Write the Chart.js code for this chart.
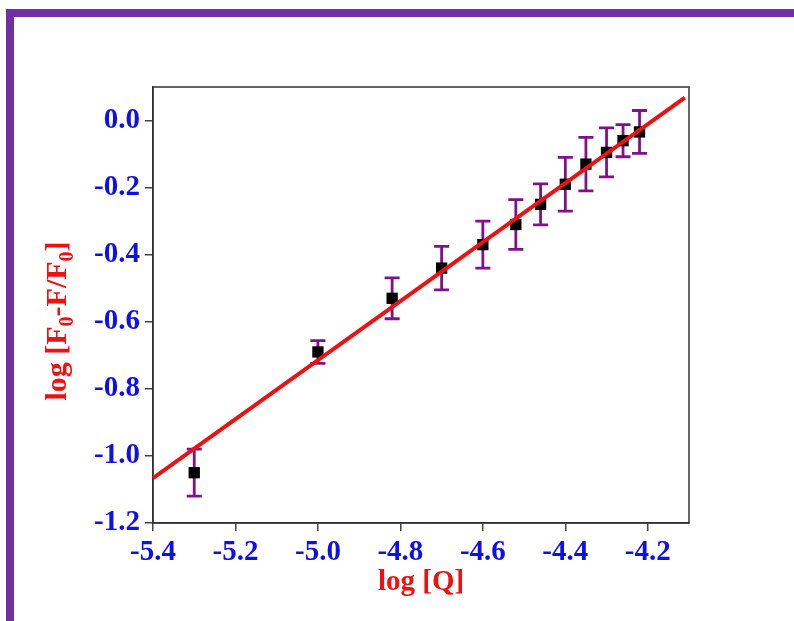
<!DOCTYPE html>
<html lang="en">
<head>
  <meta charset="UTF-8">
  <title>log [F0-F/F0] vs log [Q]</title>
  <script src="https://cdn.jsdelivr.net/npm/chart.js"></script>
  <style>
    html, body { margin: 0; padding: 0; background: #fff; }
    .wrap { position: relative; width: 794px; height: 621px; overflow: hidden; }
    .frame {
      position: absolute; left: 6px; top: 9px; width: 900px; height: 700px;
      border-top: 8px solid #7030a0; border-left: 8px solid #7030a0;
    }
    #plot { position: absolute; left: 0; top: 0; }
  </style>
</head>
<body>
  <div class="wrap">
    <div class="frame"></div>
    <canvas id="plot" width="794" height="621"></canvas>
  </div>

  <script>
    // measured points (log [Q], log [F0-F/F0]) with error
    const xVals = [-5.30, -5.00, -4.82, -4.70, -4.60, -4.52, -4.46, -4.40, -4.35, -4.30, -4.26, -4.22];
    const yVals = [-1.05, -0.69, -0.53, -0.44, -0.37, -0.31, -0.25, -0.19, -0.13, -0.095, -0.06, -0.034];
    const yErr  = [0.07, 0.034, 0.061, 0.065, 0.07, 0.074, 0.061, 0.08, 0.08, 0.073, 0.048, 0.064];

    // linear fit line end points
    const fitX = [-5.4, -4.11];
    const fitY = [-1.066, 0.068];

    const xTicks = [-5.4, -5.2, -5.0, -4.8, -4.6, -4.4, -4.2];
    const yTicks = [-1.2, -1.0, -0.8, -0.6, -0.4, -0.2, 0.0];

    const tickFont = { family: 'Liberation Serif', size: 29, weight: 'bold' };
    const blue = '#0f0fe8';
    const red = '#ee1111';

    // error bars under the markers
    const errorBars = {
      id: 'errorBars',
      beforeDatasetsDraw(chart) {
        const ctx = chart.ctx;
        const xs = chart.scales.x, ys = chart.scales.y;
        ctx.save();
        ctx.strokeStyle = '#80118a';
        ctx.lineWidth = 2.8;
        for (let i = 0; i < xVals.length; i++) {
          const px = xs.getPixelForValue(xVals[i]);
          const top = ys.getPixelForValue(yVals[i] + yErr[i]);
          const bot = ys.getPixelForValue(yVals[i] - yErr[i]);
          ctx.beginPath();
          ctx.moveTo(px, top); ctx.lineTo(px, bot);
          ctx.moveTo(px - 7.5, top); ctx.lineTo(px + 7.5, top);
          ctx.moveTo(px - 7.5, bot); ctx.lineTo(px + 7.5, bot);
          ctx.stroke();
        }
        ctx.restore();
      }
    };

    // box round the plot area and the y title with subscripts
    const boxAndTitle = {
      id: 'boxAndTitle',
      beforeDatasetsDraw(chart) {
        const a = chart.chartArea, ctx = chart.ctx;
        ctx.save();
        ctx.strokeStyle = '#333';
        ctx.lineWidth = 1.5;
        ctx.strokeRect(a.left, a.top, a.right - a.left, a.bottom - a.top);
        ctx.restore();
      },
      afterDraw(chart) {
        const ctx = chart.ctx;
        const parts = [
          ['log [F', false], ['0', true], ['-F/F', false], ['0', true], [']', false]
        ];
        const big = 'bold 30px "Liberation Serif"';
        const small = 'bold 20px "Liberation Serif"';
        ctx.save();
        let total = 0;
        parts.forEach(p => { ctx.font = p[1] ? small : big; total += ctx.measureText(p[0]).width; });
        ctx.translate(57, 321);
        ctx.rotate(-Math.PI / 2);
        ctx.fillStyle = red;
        ctx.textBaseline = 'alphabetic';
        ctx.textAlign = 'left';
        let x = -total / 2;
        parts.forEach(p => {
          ctx.font = p[1] ? small : big;
          ctx.fillText(p[0], x, p[1] ? 16 : 9);
          x += ctx.measureText(p[0]).width;
        });
        ctx.restore();
      }
    };

    new Chart(document.getElementById('plot'), {
      type: 'scatter',
      data: {
        datasets: [
          {
            type: 'line',
            data: fitX.map((x, i) => ({ x: x, y: fitY[i] })),
            borderColor: red,
            borderWidth: 4,
            pointRadius: 0,
            fill: false,
            clip: false,
            order: 1
          },
          {
            data: xVals.map((x, i) => ({ x: x, y: yVals[i] })),
            pointStyle: 'rect',
            pointRadius: 8,
            backgroundColor: '#000',
            borderColor: '#000',
            borderWidth: 0,
            order: 2
          }
        ]
      },
      options: {
        responsive: false,
        animation: false,
        layout: { padding: { top: 87, right: 105, left: 0, bottom: 0 } },
        plugins: { legend: { display: false }, tooltip: { enabled: false } },
        scales: {
          x: {
            type: 'linear',
            min: -5.4,
            max: -4.1,
            afterBuildTicks: s => { s.ticks = xTicks.map(v => ({ value: v })); },
            afterFit: s => { s.height = 98; },
            grid: { drawOnChartArea: false, drawTicks: true, tickLength: 8, color: '#444', lineWidth: 1.5 },
            border: { display: true, color: '#333', width: 1.5 },
            ticks: { color: blue, font: tickFont, padding: 4, maxRotation: 0,
                     callback: v => v.toFixed(1) },
            title: { display: true, text: 'log [Q]', color: red,
                     font: { family: 'Liberation Serif', size: 29, weight: 'bold' },
                     padding: { top: 0, bottom: 21 } }
          },
          y: {
            type: 'linear',
            min: -1.2,
            max: 0.1,
            afterBuildTicks: s => { s.ticks = yTicks.map(v => ({ value: v })); },
            afterFit: s => { s.width = 153; },
            grid: { drawOnChartArea: false, drawTicks: true, tickLength: 8, color: '#444', lineWidth: 1.5 },
            border: { display: true, color: '#333', width: 1.5 },
            ticks: { color: blue, font: tickFont, padding: 5,
                     callback: v => v.toFixed(1) }
          }
        }
      },
      plugins: [errorBars, boxAndTitle]
    });
  </script>
</body>
</html>
